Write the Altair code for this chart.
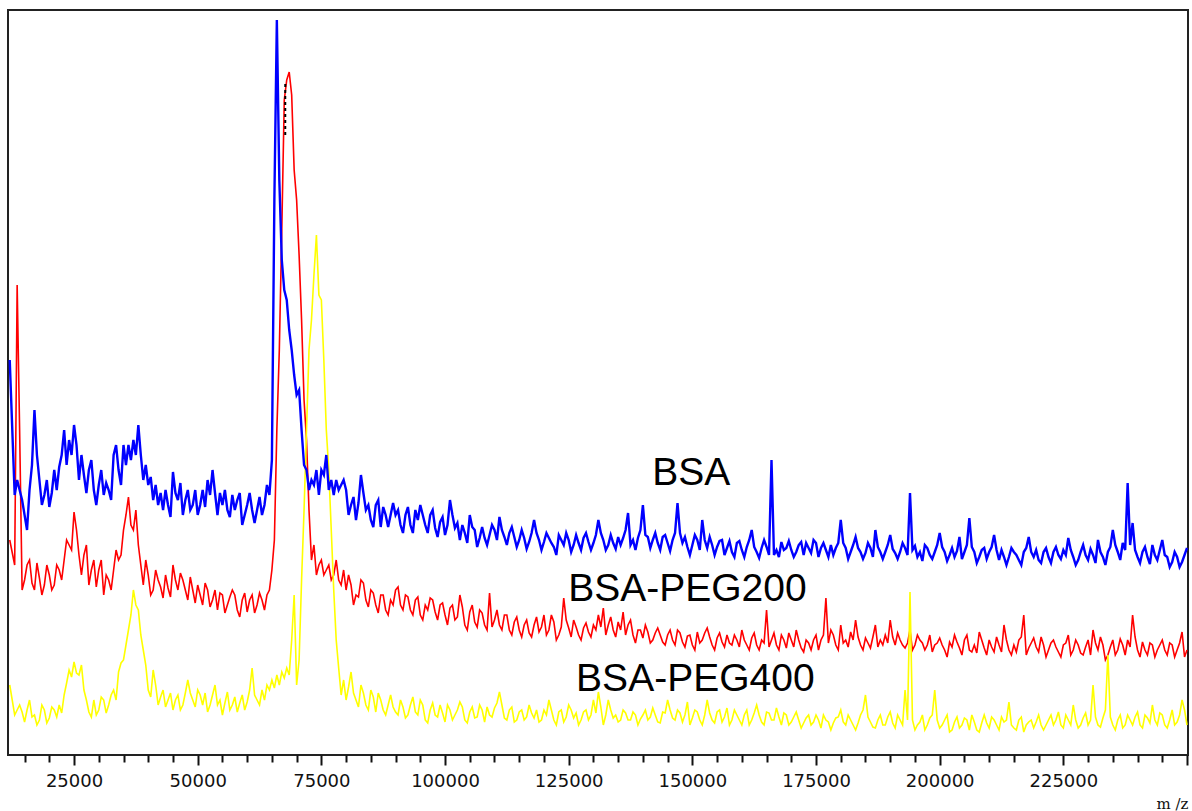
import altair as alt
import pandas as pd

# m/z sampling positions of the spectra (main grid)
MZ = [
    12000, 13000, 13500, 14000, 14500,
    15000, 16000, 17000, 18000, 19000, 20000, 21000, 22000, 23000, 24000,
    25000, 26000, 27000, 28000, 29000, 30000, 31000, 32000, 33000, 34000,
    35000, 36000, 37000, 38000, 39000, 40000, 41000, 42000, 43000, 44000,
    45000, 46000, 47000, 48000, 49000, 50000, 51000, 52000, 53000, 54000,
    55000, 56000, 57000, 58000, 59000, 60000, 61000, 62000,
    63000, 63500, 64000, 64500, 65000, 65500, 66000, 66500, 67000, 67500,
    68000, 68500, 69000, 69500, 70000, 70500, 71000, 71500, 72000, 72500,
    73000, 73500, 74000, 74500, 75000, 75500, 76000, 76500, 77000, 77500,
    78000, 78500, 79000, 79500, 80000,
    81000, 82000, 83000, 84000, 85000, 86000, 87000, 88000, 89000, 90000,
    91000, 92000, 93000, 94000, 95000, 96000, 97000, 98000, 99000, 100000,
    101000, 102000, 103000, 104000, 105000, 106000, 107000, 108000, 109000, 110000,
    111000, 112000, 113000, 114000, 115000, 116000, 117000, 118000, 119000, 120000,
    121000, 122000, 123000, 124000, 125000, 126000, 127000, 128000, 129000, 130000,
    131000, 132000, 133000, 134000, 135000, 136000, 137000, 138000, 139000, 140000,
    141000, 142000, 143000, 144000, 145000, 146000, 147000, 148000, 149000, 150000,
    151000, 152000, 153000, 154000, 155000, 156000, 157000, 158000, 159000, 160000,
    161000, 162000, 163000, 164000, 165000, 166000, 167000, 168000, 169000, 170000,
    171000, 172000, 173000, 174000, 175000, 176000, 177000, 178000, 179000, 180000,
    181000, 182000, 183000, 184000, 185000, 186000, 187000, 188000, 189000, 190000,
    191000, 192000, 193000, 194000, 195000, 196000, 197000, 198000, 199000, 200000,
    201000, 202000, 203000, 204000, 205000, 206000, 207000, 208000, 209000, 210000,
    211000, 212000, 213000, 214000, 215000, 216000, 217000, 218000, 219000, 220000,
    221000, 222000, 223000, 224000, 225000, 226000, 227000, 228000, 229000, 230000,
    231000, 232000, 233000, 234000, 235000, 236000, 237000, 238000, 239000, 240000,
    241000, 242000, 243000, 244000, 245000, 246000, 247000, 248000, 249000, 250000,
]

# in-between m/z samples (noise detail)
MZ_MID = [
    15500, 16500, 17500, 18500, 19500, 20500, 21500, 22500, 23500, 24500,
    25500, 26500, 27500, 28500, 29500, 30500, 31500, 32500, 33500, 34500,
    35500, 36500, 37500, 38500, 39500, 40500, 41500, 42500, 43500, 44500,
    45500, 46500, 47500, 48500, 49500, 50500, 51500, 52500, 53500, 54500,
    55500, 56500, 57500, 58500, 59500, 60500, 61500, 62500,
    80500, 81500, 82500, 83500, 84500, 85500, 86500, 87500, 88500, 89500,
    90500, 91500, 92500, 93500, 94500, 95500, 96500, 97500, 98500, 99500,
    100500, 101500, 102500, 103500, 104500, 105500, 106500, 107500, 108500, 109500,
    110500, 111500, 112500, 113500, 114500, 115500, 116500, 117500, 118500, 119500,
    120500, 121500, 122500, 123500, 124500, 125500, 126500, 127500, 128500, 129500,
    130500, 131500, 132500, 133500, 134500, 135500, 136500, 137500, 138500, 139500,
    140500, 141500, 142500, 143500, 144500, 145500, 146500, 147500, 148500, 149500,
    150500, 151500, 152500, 153500, 154500, 155500, 156500, 157500, 158500, 159500,
    160500, 161500, 162500, 163500, 164500, 165500, 166500, 167500, 168500, 169500,
    170500, 171500, 172500, 173500, 174500, 175500, 176500, 177500, 178500, 179500,
    180500, 181500, 182500, 183500, 184500, 185500, 186500, 187500, 188500, 189500,
    190500, 191500, 192500, 193500, 194500, 195500, 196500, 197500, 198500, 199500,
    200500, 201500, 202500, 203500, 204500, 205500, 206500, 207500, 208500, 209500,
    210500, 211500, 212500, 213500, 214500, 215500, 216500, 217500, 218500, 219500,
    220500, 221500, 222500, 223500, 224500, 225500, 226500, 227500, 228500, 229500,
    230500, 231500, 232500, 233500, 234500, 235500, 236500, 237500, 238500, 239500,
    240500, 241500, 242500, 243500, 244500, 245500, 246500, 247500, 248500, 249500,
]

# intensities (arbitrary units)
BSA = [
    395, 260, 275, 265, 255,
    240, 265, 345, 275, 260, 248, 285, 288, 325, 315,
    330, 275, 280, 285, 265, 270, 260, 265, 300, 285,
    310, 310, 315, 330, 275, 270, 255, 250, 245, 250,
    283, 255, 240, 265, 250, 240, 265, 275, 285, 240,
    250, 245, 260, 255, 230, 250, 245, 245,
    240, 250, 270, 260, 295, 555, 735, 575, 495, 465,
    455, 425, 405, 380, 360, 365, 325, 290, 285, 265,
    275, 270, 285, 260, 285, 280, 300, 265, 275, 260,
    275, 265, 270, 275, 265,
    250, 235, 280, 245, 235, 250, 228, 240, 240, 240,
    230, 240, 230, 245, 250, 230, 240, 227, 233, 220,
    255, 227, 215, 222, 240, 225, 217, 217, 220, 225,
    238, 218, 222, 218, 215, 217, 213, 235, 215, 213,
    217, 208, 220, 210, 215, 210, 212, 217, 213, 212,
    235, 215, 210, 212, 218, 217, 242, 215, 217, 250,
    218, 215, 212, 218, 212, 215, 252, 212, 208, 210,
    215, 235, 207, 210, 208, 215, 207, 203, 212, 205,
    208, 225, 203, 207, 208, 295, 205, 213, 207, 205,
    203, 213, 212, 202, 212, 207, 205, 210, 207, 235,
    207, 203, 218, 203, 202, 207, 225, 203, 203, 220,
    202, 203, 207, 262, 209, 203, 210, 200, 203, 222,
    203, 200, 198, 218, 203, 237, 203, 198, 207, 203,
    220, 195, 198, 198, 203, 195, 203, 218, 198, 195,
    203, 198, 203, 200, 205, 217, 198, 195, 210, 195,
    200, 215, 198, 203, 225, 203, 212, 272, 232, 198,
    203, 198, 210, 195, 215, 198, 193, 198, 193, 207,
]
BSA_MID = [
    225, 290, 300, 250, 275, 262, 265, 300, 290, 300,
    310, 300, 262, 295, 250, 285, 272, 255, 310, 270,
    290, 295, 300, 300, 290, 278, 270, 262, 265, 238,
    262, 272, 255, 245, 265, 250, 248, 260, 262, 262,
    265, 238, 245, 262, 240, 262, 232, 258,
    240, 258, 252, 262, 250, 228, 255, 248, 228, 252,
    245, 222, 248, 222, 235, 240, 222, 245, 218, 238,
    230, 240, 232, 230, 212, 228, 208, 228, 210, 230,
    215, 225, 210, 228, 208, 225, 206, 222, 222, 205,
    222, 212, 200, 215, 222, 203, 220, 205, 222, 205,
    220, 222, 205, 220, 206, 210, 225, 210, 205, 225,
    220, 207, 222, 205, 220, 204, 222, 222, 218, 200,
    220, 205, 215, 218, 200, 214, 200, 214, 198, 214,
    198, 215, 208, 197, 215, 200, 200, 198, 205, 214,
    198, 210, 200, 207, 215, 198, 212, 198, 200, 212,
    212, 196, 210, 207, 196, 212, 198, 208, 196, 210,
    206, 196, 212, 200, 205, 198, 194, 207, 196, 210,
    208, 194, 207, 204, 196, 210, 208, 192, 205, 196,
    208, 205, 205, 190, 207, 200, 190, 207, 203, 205,
    192, 207, 192, 208, 196, 200, 205, 190, 203, 200,
    206, 192, 203, 190, 208, 210, 195, 205, 210, 205,
    192, 208, 191, 200, 205, 200, 188, 203, 188, 200,
]

BSA_PEG200 = [
    215, 190, 470, 325, 165,
    175, 195, 165, 177, 170, 180, 170, 185, 195, 210,
    243, 200, 200, 170, 195, 185, 160, 175, 185, 195,
    225, 258, 225, 210, 170, 180, 165, 175, 157, 167,
    190, 165, 175, 155, 165, 170, 150, 165, 155, 145,
    160, 150, 165, 145, 155, 143, 160, 150,
    155, 145, 160, 165, 185, 215, 325, 405, 525, 655,
    675, 683, 660, 585, 555, 500, 435, 355, 315, 245,
    195, 210, 180, 190, 195, 180, 185, 190, 175, 180,
    195, 175, 170, 185, 165,
    170, 160, 175, 155, 165, 150, 160, 145, 155, 165,
    150, 160, 145, 155, 140, 150, 157, 143, 150, 140,
    147, 135, 160, 130, 143, 133, 145, 130, 162, 135,
    130, 140, 125, 133, 125, 130, 122, 130, 123, 140,
    125, 133, 120, 157, 127, 135, 120, 127, 123, 130,
    140, 147, 130, 125, 133, 143, 130, 120, 125, 117,
    123, 115, 127, 113, 120, 115, 125, 113, 119, 110,
    123, 115, 127, 110, 117, 113, 120, 110, 115, 125,
    110, 117, 110, 115, 145, 115, 110, 120, 107, 115,
    125, 107, 115, 105, 120, 115, 157, 125, 110, 130,
    115, 123, 135, 110, 117, 107, 130, 115, 120, 135,
    110, 115, 107, 125, 110, 115, 105, 120, 110, 117,
    105, 113, 120, 107, 115, 105, 110, 123, 107, 115,
    103, 110, 130, 105, 110, 115, 140, 107, 117, 103,
    110, 105, 115, 103, 110, 120, 105, 110, 100, 115,
    125, 105, 110, 100, 115, 105, 110, 115, 140, 105,
    113, 100, 110, 105, 115, 100, 110, 105, 123, 105,
]
BSA_PEG200_MID = [
    190, 172, 192, 160, 190, 165, 190, 175, 215, 205,
    225, 180, 210, 185, 168, 195, 180, 165, 205, 200,
    240, 230, 245, 190, 195, 160, 185, 168, 180, 158,
    175, 182, 165, 178, 152, 160, 172, 148, 165, 162,
    142, 158, 160, 138, 162, 155, 142, 162,
    180, 150, 158, 172, 148, 162, 142, 160, 140, 150,
    168, 145, 158, 140, 158, 135, 145, 155, 135, 152,
    130, 150, 138, 148, 125, 150, 128, 142, 125, 128,
    145, 125, 140, 120, 138, 118, 135, 118, 138, 128,
    120, 140, 115, 128, 135, 118, 128, 115, 132, 118,
    125, 128, 120, 138, 118, 125, 120, 135, 112, 125,
    130, 112, 122, 120, 110, 125, 110, 122, 108, 120,
    105, 112, 122, 118, 105, 122, 108, 112, 120, 108,
    115, 105, 122, 105, 112, 108, 122, 105, 115, 122,
    108, 115, 103, 112, 115, 105, 120, 112, 120, 105,
    112, 108, 115, 118, 105, 112, 118, 108, 110, 112,
    118, 122, 110, 112, 105, 120, 112, 110, 103, 112,
    110, 98, 108, 113, 100, 120, 103, 102, 115, 100,
    108, 118, 103, 115, 100, 103, 118, 100, 112, 108,
    118, 98, 112, 108, 98, 112, 100, 115, 102, 108,
    100, 112, 118, 95, 108, 100, 116, 100, 108, 118,
    98, 105, 112, 98, 110, 105, 112, 98, 112, 98,
]

BSA_PEG400 = [
    70, 40, 45, 50, 43,
    33, 55, 40, 35, 45, 37, 45, 50, 60, 85,
    93, 80, 65, 43, 55, 45, 55, 50, 65, 83,
    95, 125, 165, 145, 105, 65, 85, 50, 65, 55,
    45, 60, 50, 75, 55, 65, 50, 43, 60, 50,
    40, 63, 50, 43, 60, 53, 87, 55,
    65, 55, 70, 65, 75, 67, 80, 70, 83, 77,
    87, 80, 115, 160, 70, 95, 175, 245, 325, 405,
    435, 480, 520, 460, 455, 395, 325, 285, 225, 165,
    115, 87, 60, 75, 55,
    83, 55, 70, 50, 65, 43, 55, 40, 60, 43,
    55, 37, 50, 43, 55, 35, 45, 40, 50, 33,
    45, 40, 53, 35, 43, 37, 50, 33, 40, 47,
    63, 37, 45, 33, 43, 35, 50, 37, 33, 45,
    55, 35, 43, 33, 50, 37, 30, 43, 35, 55,
    63, 30, 55, 37, 33, 45, 35, 43, 30, 40,
    35, 47, 33, 43, 55, 37, 45, 33, 53, 37,
    43, 30, 55, 35, 43, 33, 47, 35, 40, 30,
    45, 35, 50, 33, 43, 35, 47, 30, 40, 33,
    43, 27, 37, 30, 40, 27, 35, 25, 37, 45,
    30, 35, 25, 40, 60, 33, 27, 40, 30, 43,
    27, 35, 65, 163, 25, 33, 25, 37, 65, 27,
    35, 23, 33, 27, 37, 25, 33, 23, 40, 27,
    35, 25, 33, 53, 27, 35, 23, 33, 27, 40,
    25, 35, 30, 43, 27, 35, 50, 27, 37, 30,
    70, 30, 37, 100, 30, 35, 27, 40, 30, 43,
    27, 37, 50, 30, 40, 27, 45, 33, 55, 30,
]
BSA_PEG400_MID = [
    45, 38, 30, 50, 32, 48, 38, 42, 72, 78,
    82, 90, 55, 38, 40, 58, 42, 60, 55, 92,
    110, 140, 150, 120, 90, 58, 70, 58, 48, 62,
    55, 45, 62, 62, 48, 60, 62, 50, 70, 55,
    52, 45, 58, 52, 45, 65, 60, 50,
    68, 62, 48, 62, 45, 58, 62, 45, 50, 48,
    40, 48, 40, 58, 40, 50, 32, 52, 38, 42,
    50, 35, 45, 48, 32, 48, 38, 45, 48, 38,
    52, 50, 35, 48, 35, 45, 38, 42, 45, 35,
    40, 45, 30, 45, 38, 45, 42, 35, 45, 40,
    42, 48, 40, 45, 40, 35, 42, 35, 40, 36,
    45, 38, 40, 32, 42, 45, 35, 42, 40, 30,
    45, 35, 40, 42, 32, 45, 38, 30, 45, 35,
    40, 30, 42, 40, 30, 42, 35, 38, 42, 30,
    38, 35, 32, 40, 33, 35, 40, 33, 32, 38,
    33, 40, 30, 32, 45, 38, 28, 35, 30, 38,
    32, 40, 30, 35, 35, 30, 40, 30, 40, 35,
    30, 40, 25, 38, 30, 35, 40, 25, 32, 32,
    38, 30, 38, 35, 30, 25, 38, 30, 35, 33,
    30, 30, 40, 35, 30, 40, 30, 35, 30, 42,
    35, 38, 28, 45, 38, 25, 40, 30, 35, 38,
    30, 40, 32, 35, 42, 30, 35, 30, 40, 45,
]

# axis ticks every 5000, labelled every 25000 (up to 225000)
TICK_VALUES = [15000, 20000, 25000, 30000, 35000, 40000, 45000, 50000, 55000, 60000,
               65000, 70000, 75000, 80000, 85000, 90000, 95000, 100000, 105000, 110000,
               115000, 120000, 125000, 130000, 135000, 140000, 145000, 150000, 155000,
               160000, 165000, 170000, 175000, 180000, 185000, 190000, 195000, 200000,
               205000, 210000, 215000, 220000, 225000, 230000, 235000, 240000, 245000,
               250000]

LABELS = ["BSA", "BSA-PEG200", "BSA-PEG400"]
LABEL_MZ = [141900, 124900, 126500]
LABEL_Y = [270, 154, 64]

MARKER_MZ = [67700]
MARKER_LO = [620]
MARKER_HI = [673]


def spectrum(main, mid):
    df = pd.concat([
        pd.DataFrame({"mz": MZ, "intensity": main}),
        pd.DataFrame({"mz": MZ_MID, "intensity": mid}),
    ])
    return df.sort_values("mz").reset_index(drop=True)


x_scale = alt.Scale(domain=[11650, 250200], nice=False, zero=False)
y_scale = alt.Scale(domain=[0, 745], nice=False, zero=False)

df_bsa = spectrum(BSA, BSA_MID)
df_200 = spectrum(BSA_PEG200, BSA_PEG200_MID)
df_400 = spectrum(BSA_PEG400, BSA_PEG400_MID)
df_lab = pd.DataFrame({"mz": LABEL_MZ, "y": LABEL_Y, "label": LABELS})
df_mark = pd.DataFrame({"mz": MARKER_MZ, "lo": MARKER_LO, "hi": MARKER_HI})

x_axis = alt.Axis(
    values=TICK_VALUES, tickCount=200, orient="bottom", domain=False, grid=False,
    ticks=True, tickWidth=2, tickColor="#111111", tickOpacity=1,
    tickSize={"condition": {"test": "datum.value % 25000 === 0", "value": 10}, "value": 7},
    labelExpr="(datum.value % 25000 === 0 && datum.value < 250000) ? datum.label : ''",
    labelFont="DejaVu Sans", labelFontSize=18, labelColor="#111111",
    labelPadding=7, format="d", labelFlush=False, labelOverlap=False,
    title="m /z", titleFont="DejaVu Serif", titleFontSize=15,
    titleFontWeight="normal", titleColor="#111111",
    titleX=1180, titleY=53, titleAlign="right", titleBaseline="alphabetic",
)

red = alt.Chart(df_200).mark_line(color="#FF0000", strokeWidth=1.6, clip=True).encode(
    x=alt.X("mz:Q", scale=x_scale, axis=x_axis),
    y=alt.Y("intensity:Q", scale=y_scale, axis=None),
)
yellow = alt.Chart(df_400).mark_line(color="#FFFF00", strokeWidth=1.6, clip=True).encode(
    x=alt.X("mz:Q", scale=x_scale),
    y=alt.Y("intensity:Q", scale=y_scale),
)
blue = alt.Chart(df_bsa).mark_line(color="#0000FF", strokeWidth=2.4, clip=True).encode(
    x=alt.X("mz:Q", scale=x_scale),
    y=alt.Y("intensity:Q", scale=y_scale),
)
marker = alt.Chart(df_mark).mark_rule(color="#000000", strokeWidth=2, strokeDash=[3, 3]).encode(
    x=alt.X("mz:Q", scale=x_scale),
    y=alt.Y("lo:Q", scale=y_scale),
    y2="hi:Q",
)
labels = alt.Chart(df_lab).mark_text(
    font="Liberation Sans", fontSize=39, align="left", baseline="alphabetic", color="#000000"
).encode(
    x=alt.X("mz:Q", scale=x_scale),
    y=alt.Y("y:Q", scale=y_scale),
    text="label:N",
)

chart = alt.layer(red, yellow, blue, marker, labels).properties(
    width=1180, height=745,
    autosize=alt.AutoSizeParams(type="none"),
    padding={"left": 8, "top": 10, "right": 4, "bottom": 56},
    background="white",
).configure_view(stroke="#222222", strokeWidth=2)

chart.save("out.html", embed_options={"renderer": "svg", "actions": False})
